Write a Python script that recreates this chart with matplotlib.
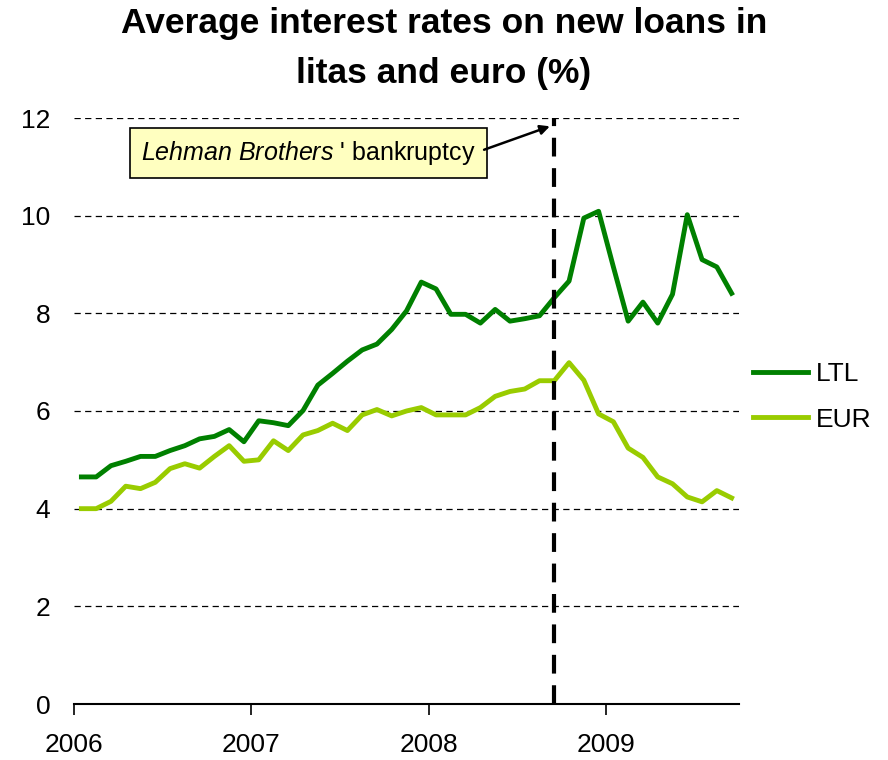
import numpy as np
import matplotlib.pyplot as plt

plt.rcParams['font.family'] = ['Liberation Sans', 'DejaVu Sans']
plt.rcParams['mathtext.fontset'] = 'custom'
plt.rcParams['mathtext.rm'] = 'Liberation Sans'
plt.rcParams['mathtext.it'] = 'Liberation Sans:italic'

# monthly averages, Jan 2006 - Sep 2009
ltl = [4.65, 4.65, 4.88, 4.97, 5.07, 5.07, 5.19, 5.29, 5.43, 5.48, 5.62, 5.37,
       5.80, 5.76, 5.70, 6.01, 6.53, 6.77, 7.02, 7.25, 7.37, 7.67, 8.05, 8.64,
       8.50, 7.98, 7.98, 7.80, 8.08, 7.84, 7.89, 7.95, 8.32, 8.66, 9.95, 10.09,
       8.95, 7.84, 8.23, 7.80, 8.39, 10.02, 9.10, 8.95, 8.41]
eur = [4.00, 4.00, 4.15, 4.46, 4.41, 4.54, 4.82, 4.92, 4.83, 5.07, 5.29, 4.97,
       5.00, 5.39, 5.19, 5.51, 5.60, 5.75, 5.60, 5.92, 6.03, 5.90, 6.00, 6.07,
       5.92, 5.92, 5.92, 6.07, 6.30, 6.40, 6.45, 6.62, 6.62, 6.99, 6.63, 5.94,
       5.78, 5.24, 5.05, 4.65, 4.51, 4.24, 4.14, 4.37, 4.22]
years = ['2006', '2007', '2008', '2009']
lehman_month = 32  # Sep 2008

x = np.arange(len(ltl)) + 0.5

fig = plt.figure(figsize=(8.88, 7.6), dpi=100)
ax = fig.add_axes([74/888, 1 - 704/760, 665/888, 586/760])

for yv in range(2, 13, 2):
    ax.axhline(yv, color='black', lw=0.9, dashes=(5, 3.5), zorder=1)

l1, = ax.plot(x, ltl, color='#008000', lw=3.5, label='LTL', zorder=3)
l2, = ax.plot(x, eur, color='#99CC00', lw=3.5, label='EUR', zorder=3)

ax.plot([lehman_month + 0.5] * 2, [0, 12], color='black', lw=3,
        dashes=(4.5, 2.8), zorder=4)

ax.text(4.55, 11.28, r"$\it{Lehman\ Brothers}$ ' bankruptcy ",
        fontsize=18, va='center', ha='left',
        bbox=dict(boxstyle='square,pad=0.45', fc='#FFFFC0', ec='black', lw=1.2))
ax.annotate('', xy=(32.2, 11.83), xytext=(27.75, 11.35),
            arrowprops=dict(arrowstyle='-|>', color='black', lw=1.8,
                            mutation_scale=14, shrinkA=0, shrinkB=0))

ax.set_xlim(0, 45)
ax.set_ylim(0, 12)
ax.set_xticks([0, 12, 24, 36])
ax.set_xticklabels(years)
ax.set_yticks(range(0, 13, 2))
for s in ['top', 'right', 'left']:
    ax.spines[s].set_visible(False)
ax.spines['bottom'].set_linewidth(1.5)
ax.tick_params(axis='y', length=0, labelsize=19, pad=17)
ax.tick_params(axis='x', direction='out', length=8, width=1.2, labelsize=19, pad=13)

fig.text(0.5, 1 - 23/760, "Average interest rates on new loans in",
         ha='center', va='center', fontsize=25.5, fontweight='bold')
fig.text(0.5, 1 - 74/760, "litas and euro (%)",
         ha='center', va='center', fontsize=25.5, fontweight='bold')

fig.legend(handles=[l1, l2], loc='center left', bbox_to_anchor=(729/888, 1 - 397/760),
           frameon=False, fontsize=19, handlelength=2.1, handletextpad=0.3,
           labelspacing=0.8)

fig.savefig('out.png', dpi=100)
